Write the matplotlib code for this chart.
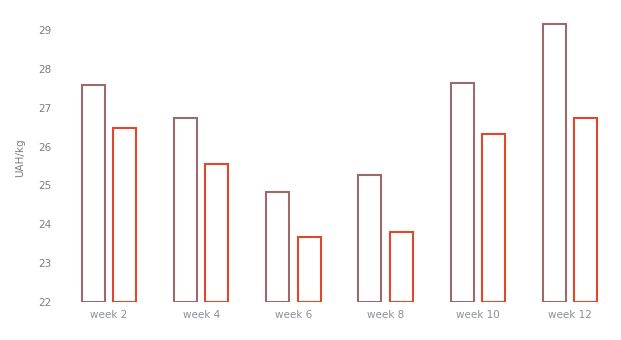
import matplotlib
matplotlib.use("Agg")
import matplotlib.pyplot as plt
import numpy as np

weeks = ['week 2', 'week 4', 'week 6', 'week 8', 'week 10', 'week 12']
series_a = [27.58, 26.73, 24.83, 25.27, 27.64, 29.15]
series_b = [26.48, 25.55, 23.67, 23.80, 26.32, 26.73]
yticks = [22, 23, 24, 25, 26, 27, 28, 29]

plt.rcParams['font.family'] = ['DejaVu Sans']

fig = plt.figure(figsize=(6.21, 3.40), dpi=100)
ax = fig.add_axes([63 / 621, 1 - 302 / 340, 553 / 621, 291.5 / 340])

x = np.arange(len(weeks))
w = 0.25
off = 0.17
ax.bar(x - off, np.array(series_a) - 22, bottom=22, width=w, facecolor='white',
       edgecolor='#9c6a6a', linewidth=1.5)
ax.bar(x + off, np.array(series_b) - 22, bottom=22, width=w, facecolor='white',
       edgecolor='#e2472a', linewidth=1.5)

ax.set_xlim(-0.5, len(weeks) - 0.5)
ax.set_ylim(22, 29.5)
ax.set_yticks(yticks)
ax.set_xticks(x)
ax.set_xticklabels(weeks)
for s in ax.spines.values():
    s.set_visible(False)
ax.tick_params(axis='both', length=0, labelsize=7.5)
ax.tick_params(axis='y', colors='#7f7f7f', pad=8)
ax.tick_params(axis='x', colors='#8a8f9c', pad=6)
ax.set_ylabel('UAH/kg', color='#7f7f7f', fontsize=7.5)
ax.yaxis.set_label_coords(-38 / 553, 0.494)

fig.savefig('out.png', dpi=100)
